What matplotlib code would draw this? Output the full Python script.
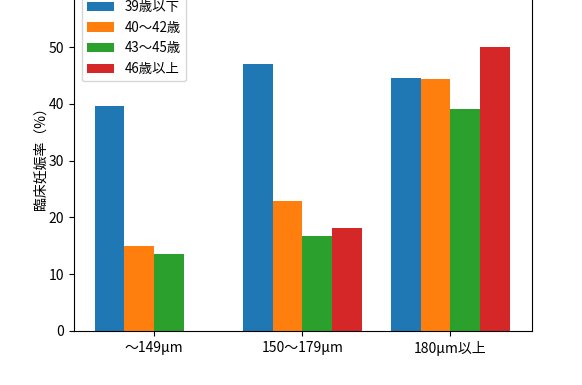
import matplotlib
matplotlib.use("Agg")
import matplotlib.pyplot as plt
import numpy as np

plt.rcParams['font.family'] = ['Noto Sans CJK JP', 'DejaVu Sans']

categories = ["～149μm", "150～179μm", "180μm以上"]
series_names = ["39歳以下", "40～42歳", "43～45歳", "46歳以上"]
s39 = [39.6, 47.0, 44.6]
s40 = [15.0, 22.9, 44.4]
s43 = [13.5, 16.8, 39.1]
s46 = [0.0, 18.2, 50.0]
colors = ["#1f77b4", "#ff7f0e", "#2ca02c", "#d62728"]

fig = plt.figure(figsize=(5.82, 3.85), dpi=100)
ax = fig.add_axes([74/582, 54/385, 458/582, 352/385])

x = np.arange(len(categories))
w = 0.2
for i, (vals, name, c) in enumerate(zip([s39, s40, s43, s46], series_names, colors)):
    ax.bar(x + (i - 1.5) * w, vals, w, label=name, color=c)

ax.set_xticks(x)
ax.set_xticklabels(categories)
ax.set_xlim(-0.54, 2.55)
ax.set_ylim(0, 62)
ax.set_yticks([0, 10, 20, 30, 40, 50])
ax.set_ylabel("臨床妊娠率（%）", labelpad=1)
ax.legend(loc="upper left", bbox_to_anchor=(1/458, 1 - 9/352), fontsize=9.6)

fig.savefig("out.png", dpi=100)
